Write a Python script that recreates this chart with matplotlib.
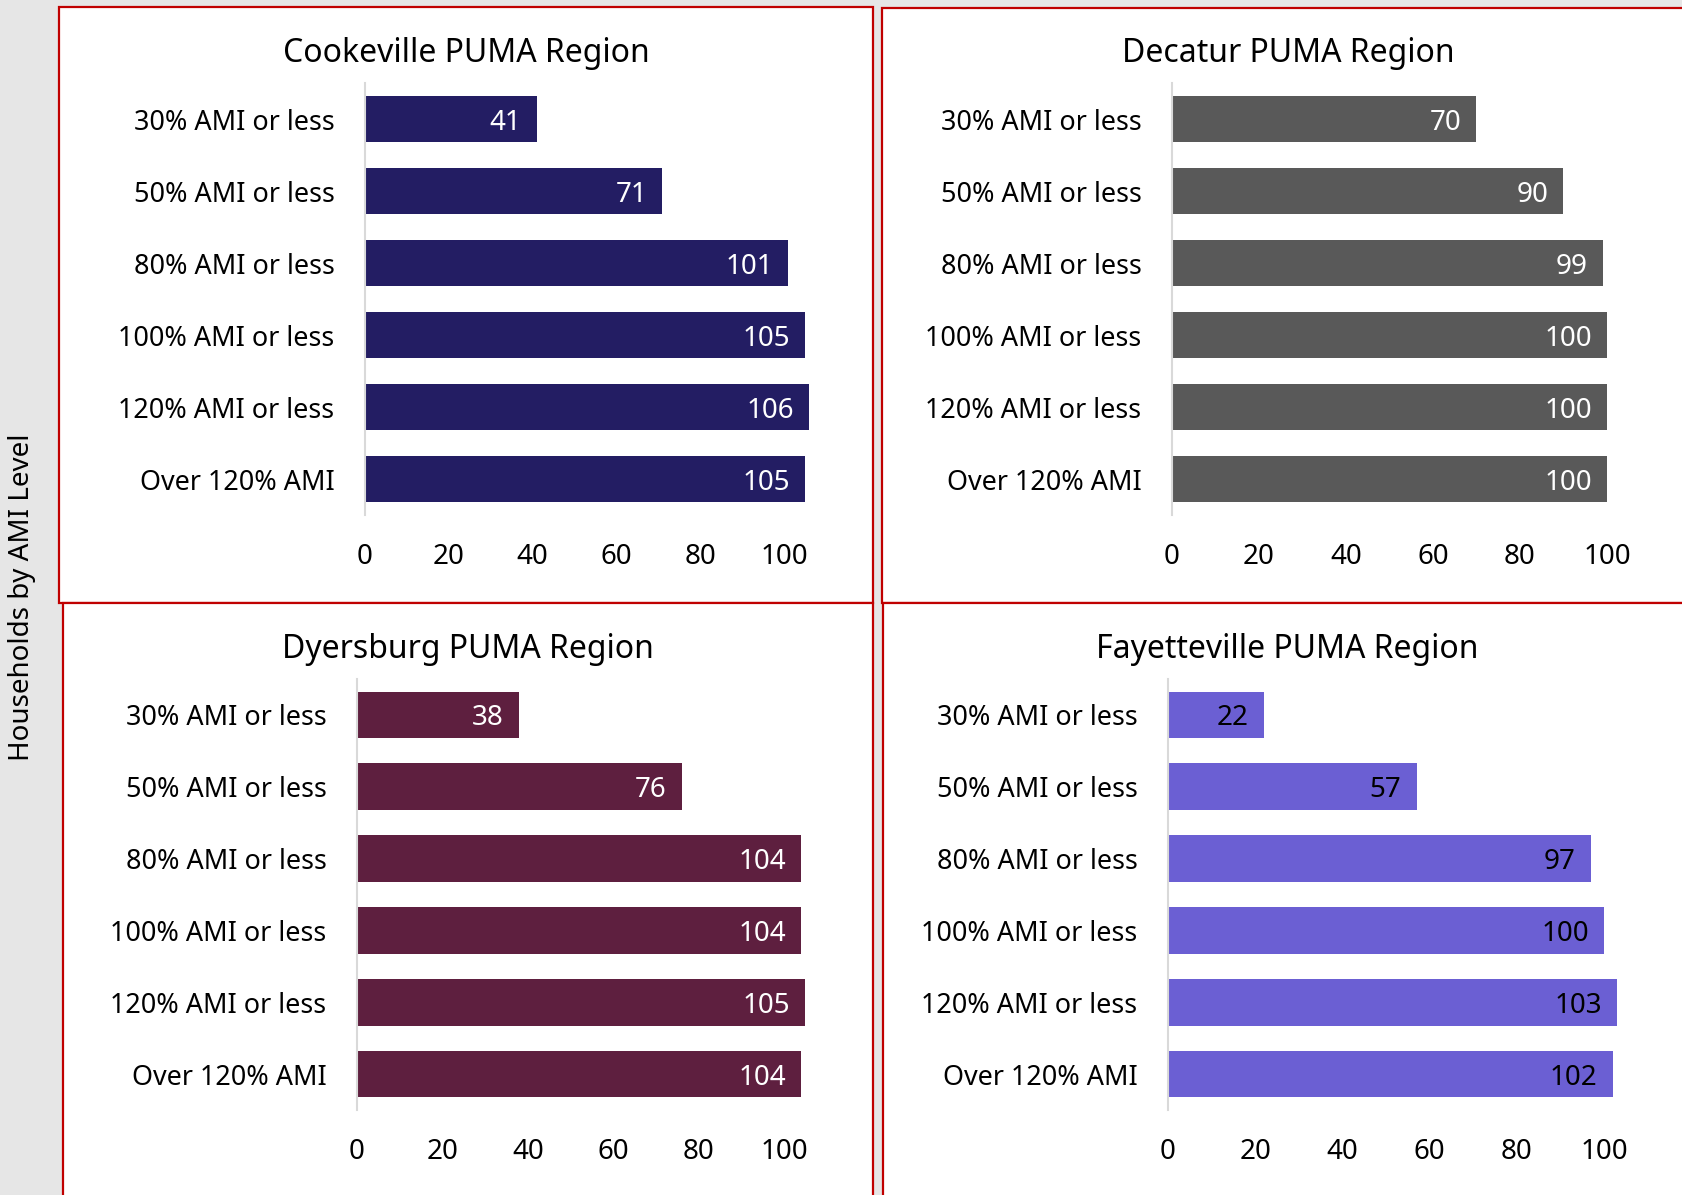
import matplotlib
matplotlib.use("Agg")
import matplotlib.pyplot as plt
from matplotlib.patches import Rectangle
from matplotlib.transforms import ScaledTranslation

plt.rcParams["font.family"] = ["Noto Sans", "DejaVu Sans"]

categories = ["30% AMI or less", "50% AMI or less", "80% AMI or less",
              "100% AMI or less", "120% AMI or less", "Over 120% AMI"]
ticks = [0, 20, 40, 60, 80, 100]

regions = ["Cookeville PUMA Region", "Decatur PUMA Region",
           "Dyersburg PUMA Region", "Fayetteville PUMA Region"]
cookeville = [41, 71, 101, 105, 106, 105]
decatur = [70, 90, 99, 100, 100, 100]
dyersburg = [38, 76, 104, 104, 105, 104]
fayetteville = [22, 57, 97, 100, 103, 102]

bar_colors = ["#231d63", "#595959", "#5e1f3f", "#6b5fd3"]
label_colors = ["white", "white", "white", "black"]

W, H = 1682, 1195
fig = plt.figure(figsize=(W / 100, H / 100), dpi=100)
fig.patch.set_facecolor("#e6e6e6")


def px_rect(x0, y0, x1, y1):
    # pixel box (top-left origin) -> figure fraction [l, b, w, h]
    return [x0 / W, 1 - y1 / H, (x1 - x0) / W, (y1 - y0) / H]


# white panels with red outline
panels = [(59, 7, 873, 603), (882, 8, 1700, 603),
          (63, 603, 873, 1210), (883, 603, 1700, 1210)]
for x0, y0, x1, y1 in panels:
    l, b, w, h = px_rect(x0, y0, x1, y1)
    fig.patches.append(Rectangle((l, b), w, h, transform=fig.transFigure,
                                 facecolor="white", edgecolor="#c00000",
                                 linewidth=1.6, zorder=-1))

# (axis x0, px per unit, top, bottom, title center x, title y)
layout = [(365, 4.19, 83, 515, 466, 53),
          (1172, 4.35, 83, 515, 1288, 53),
          (357, 4.27, 679, 1110, 468, 650),
          (1168, 4.36, 679, 1110, 1287, 650)]
xmax = 110
series = [cookeville, decatur, dyersburg, fayetteville]
nudge_up = ScaledTranslation(0, 2 / 100, fig.dpi_scale_trans)

for i, (vals, (x0, scale, top, bot, tx, ty)) in enumerate(zip(series, layout)):
    ax = fig.add_axes(px_rect(x0, top, x0 + xmax * scale, bot))
    ax.set_zorder(2)
    ax.patch.set_alpha(0)
    ypos = list(range(len(categories)))
    ax.barh(ypos, vals, height=0.65, color=bar_colors[i])
    ax.set_xlim(0, xmax)
    ax.set_ylim(len(categories) - 0.5, -0.5)
    ax.set_yticks(ypos)
    ax.set_yticklabels(categories, fontsize=19.4, va="center_baseline")
    for lab in ax.get_yticklabels():
        lab.set_transform(lab.get_transform() + nudge_up)
    ax.set_xticks(ticks)
    ax.set_xticklabels([str(t) for t in ticks], fontsize=20)
    ax.tick_params(axis="both", length=0)
    ax.tick_params(axis="y", pad=22)
    ax.tick_params(axis="x", pad=20)
    for side in ["top", "right", "bottom"]:
        ax.spines[side].set_visible(False)
    ax.spines["left"].set_color("#d9d9d9")
    ax.spines["left"].set_linewidth(1.5)
    for y, v in zip(ypos, vals):
        ax.annotate(str(v), (v, y), xytext=(-11, 0), textcoords="offset points",
                    ha="right", va="center_baseline", color=label_colors[i],
                    fontsize=20)
    fig.text(tx / W, 1 - ty / H, regions[i], fontsize=23,
             ha="center", va="center")

fig.text(22 / W, 1 - 597 / H, "Households by AMI Level", fontsize=20,
         rotation=90, ha="center", va="center")

fig.savefig("out.png", dpi=100)
